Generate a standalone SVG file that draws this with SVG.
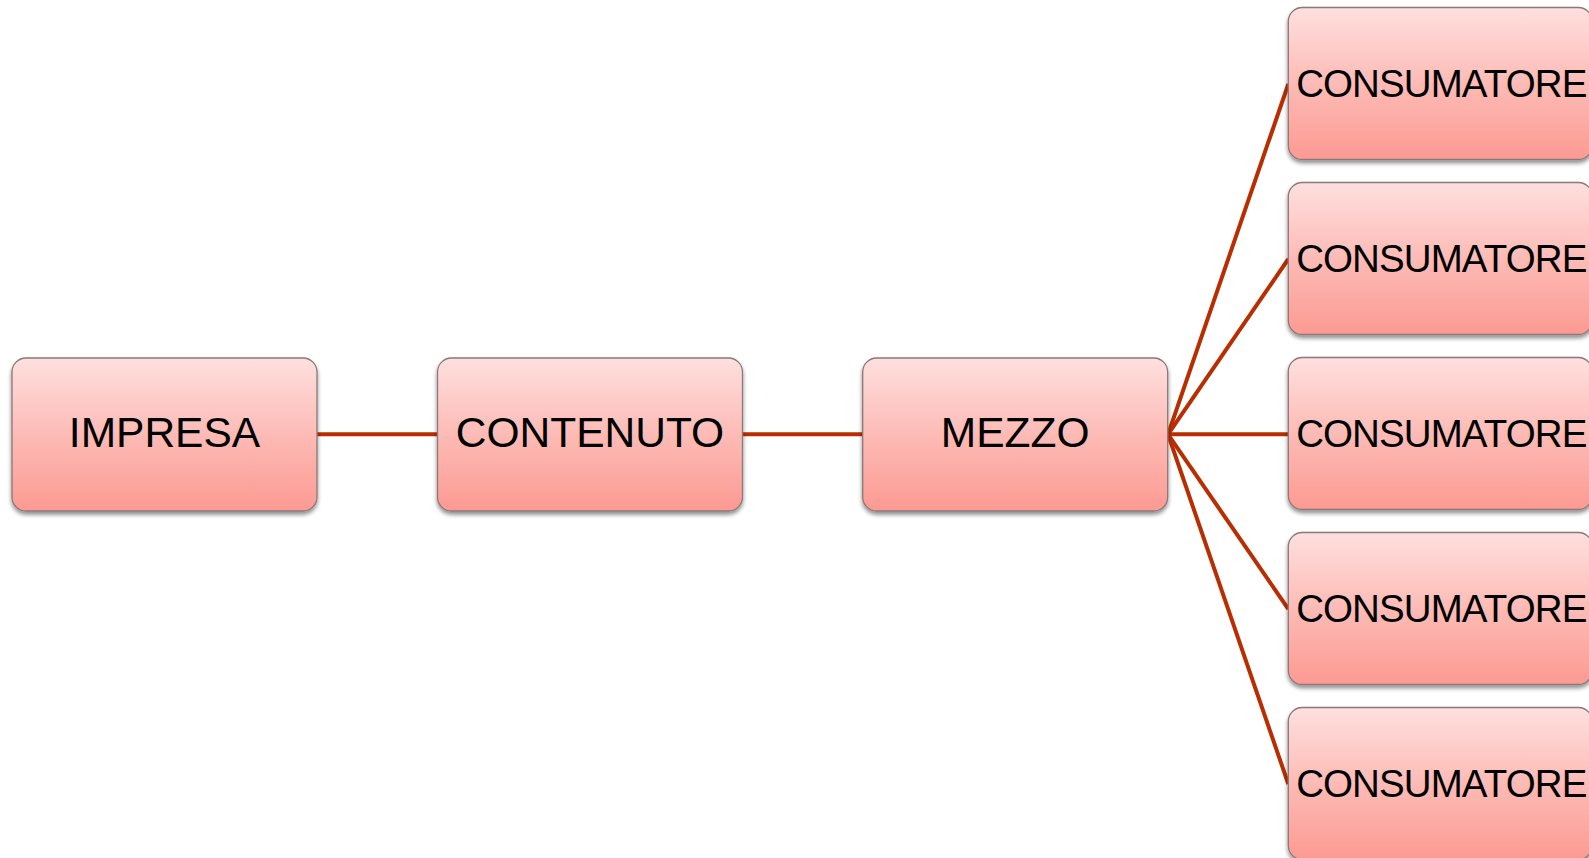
<svg xmlns="http://www.w3.org/2000/svg" width="1589" height="858" viewBox="0 0 1589 858">
  <defs>
    <linearGradient id="g" x1="0" y1="0" x2="0" y2="1">
      <stop offset="0" stop-color="#FEE0DF"/>
      <stop offset="0.5" stop-color="#FDBBB6"/>
      <stop offset="1" stop-color="#FC9A92"/>
    </linearGradient>
    <filter id="sh" x="-10%" y="-10%" width="120%" height="130%">
      <feGaussianBlur in="SourceAlpha" stdDeviation="2"/>
      <feOffset dx="0" dy="3" result="b"/>
      <feComponentTransfer><feFuncA type="linear" slope="0.45"/></feComponentTransfer>
      <feMerge><feMergeNode/><feMergeNode in="SourceGraphic"/></feMerge>
    </filter>
  </defs>
  <style>
    .box { fill: url(#g); stroke: #8C7878; stroke-width: 1.3; filter: url(#sh); }
    .lbl { font-family: "Liberation Sans", Arial, sans-serif; font-size: 42.5px; fill: #000; text-anchor: middle; }
    .lbl2 { font-family: "Liberation Sans", Arial, sans-serif; font-size: 38.5px; fill: #000; text-anchor: middle; letter-spacing: -0.9px; }
    .con { stroke: #B82E00; stroke-width: 4; fill: none; stroke-linecap: butt; }
  </style>
  <rect width="1589" height="858" fill="#ffffff"/>
  <g id="connectors">
    <line class="con" x1="317" y1="434.3" x2="437.5" y2="434.3"/>
    <line class="con" x1="742.5" y1="434.3" x2="862.7" y2="434.3"/>
    <line class="con" x1="1168" y1="434.3" x2="1288.3" y2="84"/>
    <line class="con" x1="1168" y1="434.3" x2="1288.3" y2="259"/>
    <line class="con" x1="1168" y1="434.3" x2="1288.3" y2="434.3"/>
    <line class="con" x1="1168" y1="434.3" x2="1288.3" y2="609"/>
    <line class="con" x1="1168" y1="434.3" x2="1288.3" y2="784"/>
  </g>
  <g id="impresa">
    <rect class="box" x="12" y="358" width="305" height="153" rx="14"/>
    <text class="lbl" x="164.5" y="447.3">IMPRESA</text>
  </g>
  <g id="contenuto">
    <rect class="box" x="437.5" y="358" width="305" height="153" rx="14"/>
    <text class="lbl" x="590" y="447.3">CONTENUTO</text>
  </g>
  <g id="mezzo">
    <rect class="box" x="862.7" y="358" width="305" height="153" rx="14"/>
    <text class="lbl" x="1015.2" y="447.3">MEZZO</text>
  </g>
  <g id="consumatore1">
    <rect class="box" x="1288.3" y="7.5" width="304" height="152" rx="14"/>
    <text class="lbl2" x="1441.3" y="96.7">CONSUMATORE</text>
  </g>
  <g id="consumatore2">
    <rect class="box" x="1288.3" y="182.5" width="304" height="152" rx="14"/>
    <text class="lbl2" x="1441.3" y="271.7">CONSUMATORE</text>
  </g>
  <g id="consumatore3">
    <rect class="box" x="1288.3" y="357.5" width="304" height="152" rx="14"/>
    <text class="lbl2" x="1441.3" y="446.7">CONSUMATORE</text>
  </g>
  <g id="consumatore4">
    <rect class="box" x="1288.3" y="532.5" width="304" height="152" rx="14"/>
    <text class="lbl2" x="1441.3" y="621.7">CONSUMATORE</text>
  </g>
  <g id="consumatore5">
    <rect class="box" x="1288.3" y="707.5" width="304" height="152" rx="14"/>
    <text class="lbl2" x="1441.3" y="796.7">CONSUMATORE</text>
  </g>
</svg>
